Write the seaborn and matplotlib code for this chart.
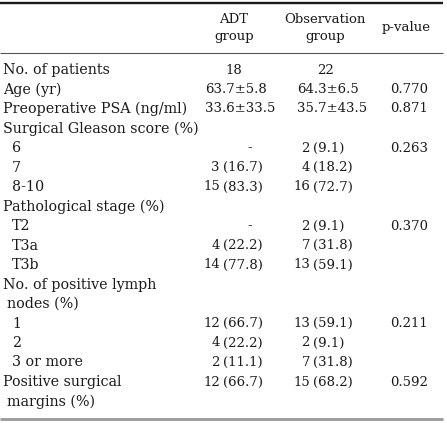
import matplotlib
matplotlib.use("Agg")
import matplotlib.pyplot as plt
import seaborn as sns

# table content, one entry per printed line
row_labels = ["No. of patients", "Age (yr)", "Preoperative PSA (ng/ml)",
              "Surgical Gleason score (%)", "6", "7", "8-10",
              "Pathological stage (%)", "T2", "T3a", "T3b",
              "No. of positive lymph", "nodes (%)", "1", "2", "3 or more",
              "Positive surgical", "margins (%)"]
# 0 = heading, 1 = wrapped continuation, 2 = sub item
row_indent = [0, 0, 0, 0, 2, 2, 2, 0, 2, 2, 2, 0, 1, 2, 2, 2, 0, 1]
adt_group = ["18", "63.7±5.8", "33.6±33.5", "", "-", "3 (16.7)", "15 (83.3)",
             "", "-", "4 (22.2)", "14 (77.8)", "", "", "12 (66.7)", "4 (22.2)",
             "2 (11.1)", "12 (66.7)", ""]
obs_group = ["22", "64.3±6.5", "35.7±43.5", "", "2 (9.1)", "4 (18.2)", "16 (72.7)",
             "", "2 (9.1)", "7 (31.8)", "13 (59.1)", "", "", "13 (59.1)", "2 (9.1)",
             "7 (31.8)", "15 (68.2)", ""]
p_values = ["", "0.770", "0.871", "", "0.263", "", "", "", "0.370", "", "",
            "", "", "0.211", "", "", "0.592", ""]
headers = ["ADT\ngroup", "Observation\ngroup", "p-value"]

sns.set_theme(style="white")
plt.rcParams['font.family'] = ['DejaVu Serif']
FS = 9.5       # numbers and headers
FS_LAB = 10.3  # row labels print a bit wider in the original
TXT = '#1a1a1a'

fig = plt.figure(figsize=(4.47, 4.23), dpi=100)
ax = fig.add_axes([0, 0, 1, 1])
ax.set_xlim(0, 447)
ax.set_ylim(423, 0)
ax.axis('off')

first_row, row_h = 70, 19.5
indent_x = {0: 3, 1: 7, 2: 12}

# column layout: left edge, split point for "n (%)", centre
cols = [dict(left=205, split=220, center=234, dash=250),
        dict(left=297, split=310, center=325, dash=333)]


def draw_cell(val, y, c):
    '''Place one value of a group column, lining up "n (%)" on the parenthesis.'''
    if not val:
        return
    if ' (' in val:
        n, pct = val.split(' ', 1)
        ax.text(c['split'], y, n, ha='right', va='center', fontsize=FS, color=TXT)
        ax.text(c['split'] + 3.5, y, pct, ha='left', va='center', fontsize=FS, color=TXT)
    elif val == '-':
        ax.text(c['dash'], y, val, ha='center', va='center', fontsize=FS, color=TXT)
    elif '±' in val:
        ax.text(c['left'], y, val, ha='left', va='center', fontsize=FS, color=TXT)
    else:
        ax.text(c['center'], y, val, ha='center', va='center', fontsize=FS, color=TXT)


for i, lab in enumerate(row_labels):
    y = first_row + i * row_h
    ax.text(indent_x[row_indent[i]], y, lab, ha='left', va='center', fontsize=FS_LAB, color=TXT)
    draw_cell(adt_group[i], y, cols[0])
    draw_cell(obs_group[i], y, cols[1])
    if p_values[i]:
        ax.text(390, y, p_values[i], ha='left', va='center', fontsize=FS, color=TXT)

# header block
for x, h in zip([cols[0]['center'], cols[1]['center'], 406], headers):
    ax.text(x, 28, h, ha='center', va='center', fontsize=FS, color=TXT,
            linespacing=1.45)

# rules
ax.plot([0, 443], [3, 3], color='#1a1a1a', lw=1.7, solid_capstyle='butt')
ax.plot([0, 443], [53, 53], color='#555555', lw=0.8, solid_capstyle='butt')
ax.plot([0, 443], [419, 419], color='#999999', lw=2.0, solid_capstyle='butt')

fig.savefig('out.png', dpi=100)
